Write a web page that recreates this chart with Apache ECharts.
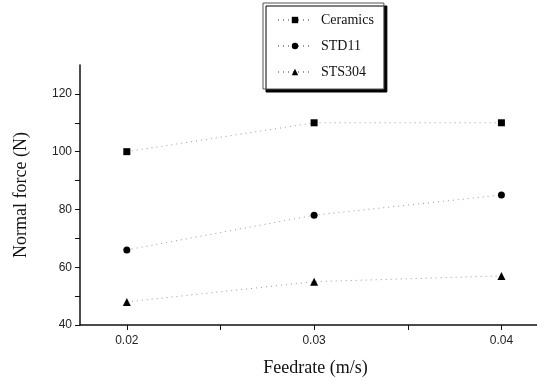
<!DOCTYPE html>
<html>
<head>
<meta charset="utf-8">
<script src="https://cdn.jsdelivr.net/npm/echarts@6/dist/echarts.min.js"></script>
<style>
html,body{margin:0;padding:0;background:#fff;}
#chart{width:537px;height:381px;}
</style>
</head>
<body>
<div id="chart"></div>
<script>
// feedrate (m/s)
var feedrate = [0.02, 0.03, 0.04];
var ceramics = [100, 110, 110];
var std11 = [66, 78, 85];
var sts304 = [48, 55, 57];
var xTicks = ['0.02', '0.03', '0.04'];

function pairs(vals){
	return feedrate.map(function(f, i){ return [f, vals[i]]; });
}

var chart = echarts.init(document.getElementById('chart'));
var lineStyle = {color:'#999', width:1, type:[1,4]};
chart.setOption({
	animation:false,
	backgroundColor:'#fff',
	grid:{left:80, right:0, top:65, bottom:56, outerBoundsMode:'none'},
	legend:{
		orient:'vertical',
		left:263, top:3,
		padding:[10,10,10,14],
		itemGap:12,
		itemWidth:34,
		itemHeight:8,
		backgroundColor:'#fff',
		borderColor:'#555',
		borderWidth:1,
		shadowColor:'#000',
		shadowOffsetX:3,
		shadowOffsetY:3,
		shadowBlur:0,
		textStyle:{fontFamily:'Liberation Serif', fontSize:14, color:'#111', padding:[0,0,0,4]},
		data:['Ceramics','STD11','STS304']
	},
	xAxis:{
		type:'value',
		min:0.0175, max:0.0419,
		interval:0.005,
		name:'Feedrate (m/s)',
		nameLocation:'middle',
		nameGap:34,
		nameTextStyle:{fontFamily:'Liberation Serif', fontSize:18, color:'#111', padding:[0,0,0,14]},
		axisLine:{lineStyle:{color:'#111', width:1.5}},
		axisTick:{inside:false, length:5, lineStyle:{color:'#111'}, customValues:[0.02,0.025,0.03,0.035,0.04]},
		axisLabel:{fontFamily:'Liberation Sans', fontSize:12, color:'#222', margin:10,
			customValues:[0.02,0.03,0.04],
			formatter:function(v){ return xTicks[Math.round((v-0.02)/0.01)]; }},
		splitLine:{show:false}
	},
	yAxis:{
		type:'value',
		min:40, max:130,
		interval:10,
		name:'Normal force (N)',
		nameLocation:'middle',
		nameGap:50,
		nameTextStyle:{fontFamily:'Liberation Serif', fontSize:18, color:'#111'},
		axisLine:{show:true, lineStyle:{color:'#111', width:1.5}},
		axisTick:{show:true, length:5, lineStyle:{color:'#111'}, customValues:[40,50,60,70,80,90,100,110,120]},
		axisLabel:{fontFamily:'Liberation Sans', fontSize:12, color:'#222', margin:8,
			customValues:[40,60,80,100,120]},
		splitLine:{show:false}
	},
	series:[
		{name:'Ceramics', type:'line', data:pairs(ceramics), symbol:'rect', symbolSize:7,
			itemStyle:{color:'#000'}, lineStyle:lineStyle},
		{name:'STD11', type:'line', data:pairs(std11), symbol:'circle', symbolSize:7,
			itemStyle:{color:'#000'}, lineStyle:lineStyle},
		{name:'STS304', type:'line', data:pairs(sts304), symbol:'triangle', symbolSize:8,
			itemStyle:{color:'#000'}, lineStyle:lineStyle}
	]
});
</script>
</body>
</html>
